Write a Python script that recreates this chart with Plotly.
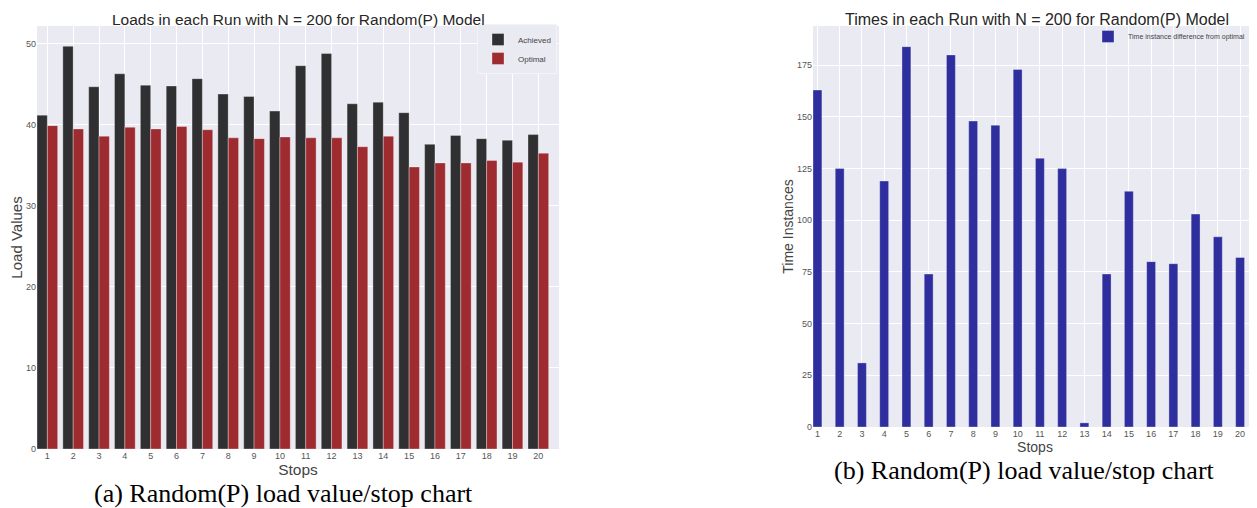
import plotly.graph_objects as go

stops = list(range(1, 21))
stop_labels = [str(s) for s in stops]
achieved = [41.2, 49.7, 44.7, 46.3, 44.9, 44.8, 45.7, 43.8, 43.5, 41.7,
            47.3, 48.8, 42.6, 42.8, 41.5, 37.6, 38.7, 38.3, 38.1, 38.8]
optimal = [39.9, 39.5, 38.6, 39.7, 39.5, 39.8, 39.4, 38.4, 38.3, 38.5,
           38.4, 38.4, 37.3, 38.6, 34.8, 35.3, 35.3, 35.6, 35.4, 36.5]
time_diff = [163, 125, 31, 119, 184, 74, 180, 148, 146, 173,
             130, 125, 2, 74, 114, 80, 79, 103, 92, 82]
load_ticks = [0, 10, 20, 30, 40, 50]
time_ticks = [0, 25, 50, 75, 100, 125, 150, 175]

# the page body has an 8px default margin; compensate so the figure fills the window
OFF = 8
W, H = 1257 - OFF, 508 - OFF
def px_x(p):
    return (p - OFF) / W
def px_y(p):
    return 1 - (p - OFF) / H

BG = "#EAEAF2"
TICK_C = "#555555"
TITLE_C = "#262626"
FONT = "Liberation Sans, Arial, sans-serif"
SERIF = "Liberation Serif, Times New Roman, serif"

edge = dict(color="rgba(255,255,255,0.45)", width=0.7)

fig = go.Figure()
fig.add_trace(go.Bar(x=stops, y=achieved, name="Achieved", width=0.4, offset=-0.4,
                     marker=dict(color="#303032", line=edge),
                     xaxis="x", yaxis="y", legend="legend"))
fig.add_trace(go.Bar(x=stops, y=optimal, name="Optimal", width=0.4, offset=0,
                     marker=dict(color="#9e2b30", line=edge),
                     xaxis="x", yaxis="y", legend="legend"))
fig.add_trace(go.Bar(x=stops, y=time_diff, name="Time instance difference from optimal",
                     width=0.4, offset=-0.2,
                     marker=dict(color="#2e2e9e", line=edge),
                     xaxis="x2", yaxis="y2", legend="legend2"))

axis_common = dict(showgrid=True, gridcolor="white", gridwidth=1, zeroline=False,
                   showline=False, ticks="", automargin=False,
                   tickfont=dict(family=FONT, size=9, color=TICK_C))

fig.update_layout(
    width=W, height=H, margin=dict(l=0, r=0, t=0, b=0, autoexpand=False),
    paper_bgcolor="white", plot_bgcolor=BG, showlegend=True,
    font=dict(family=FONT, color=TITLE_C),
    xaxis=dict(domain=[px_x(37), px_x(559)], range=[0.6, 20.8], tickvals=stops,
               ticktext=stop_labels, anchor="y",
               title=dict(text="Stops", font=dict(size=15.5, color="#444444"), standoff=0),
               **axis_common),
    yaxis=dict(domain=[px_y(449), px_y(26)], range=[0, 52.2], tickvals=load_ticks,
               anchor="x",
               title=dict(text="Load Values", font=dict(size=15, color="#444444"), standoff=8),
               **axis_common),
    xaxis2=dict(domain=[px_x(813), 1.0], range=[0.8, 20.76], tickvals=stops,
                ticktext=stop_labels, anchor="y2",
                title=dict(text="Stops", font=dict(size=14, color="#444444"), standoff=0),
                **axis_common),
    yaxis2=dict(domain=[px_y(427), px_y(26)], range=[0, 194], tickvals=time_ticks,
                anchor="x2",
                title=dict(text="Time Instances", font=dict(size=14, color="#444444"), standoff=0),
                **axis_common),
    legend=dict(x=px_x(557), y=px_y(24), xanchor="right", yanchor="top",
                bgcolor=BG, bordercolor="#f4f4f8", borderwidth=1,
                font=dict(family=FONT, size=8, color="#444444"),
                tracegroupgap=0, itemwidth=30),
    legend2=dict(x=px_x(1250), y=px_y(22), xanchor="right", yanchor="top",
                 bgcolor="rgba(0,0,0,0)", borderwidth=0,
                 font=dict(family=FONT, size=7, color="#444444"), itemwidth=30),
    annotations=[
        dict(text="Loads in each Run with N = 200 for Random(P) Model", x=px_x(298), y=px_y(19),
             xref="paper", yref="paper", showarrow=False, xanchor="center", yanchor="middle",
             font=dict(family=FONT, size=15.5, color=TITLE_C)),
        dict(text="Times in each Run with N = 200 for Random(P) Model", x=px_x(1037), y=px_y(19),
             xref="paper", yref="paper", showarrow=False, xanchor="center", yanchor="middle",
             font=dict(family=FONT, size=16, color=TITLE_C)),
        dict(text="(a) Random(P) load value/stop chart", x=px_x(283), y=px_y(493),
             xref="paper", yref="paper", showarrow=False, xanchor="center", yanchor="middle",
             font=dict(family=SERIF, size=26, color="black")),
        dict(text="(b) Random(P) load value/stop chart", x=px_x(1024), y=px_y(470),
             xref="paper", yref="paper", showarrow=False, xanchor="center", yanchor="middle",
             font=dict(family=SERIF, size=26, color="black")),
    ],
)

fig.write_html("out.html")
